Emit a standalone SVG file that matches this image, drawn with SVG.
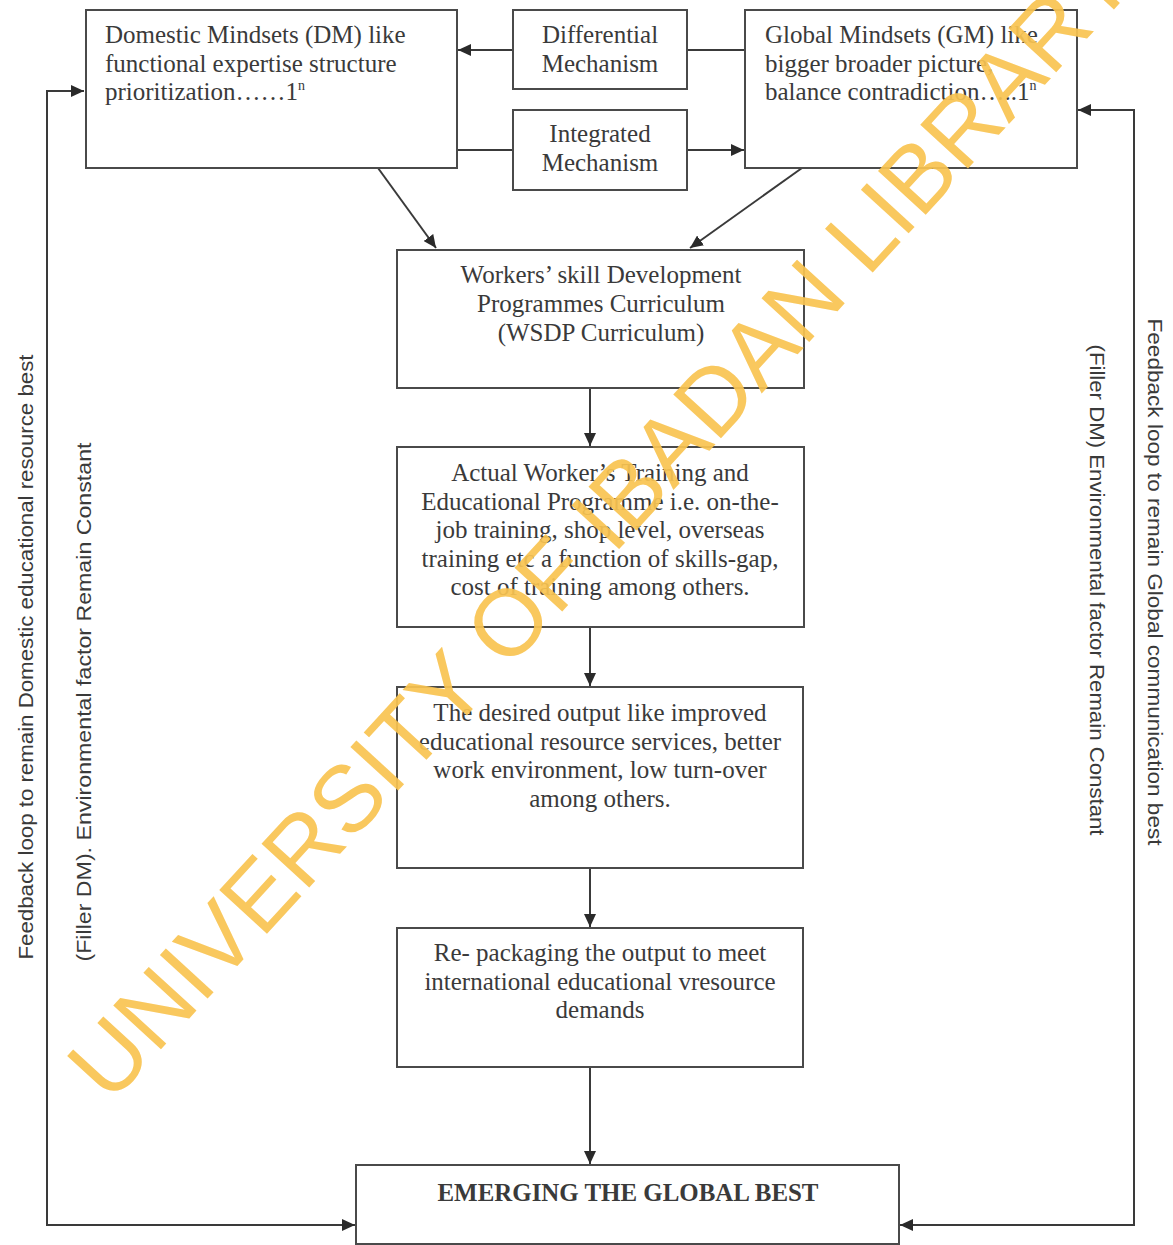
<svg xmlns="http://www.w3.org/2000/svg" width="1173" height="1245" viewBox="0 0 1173 1245">
<style>
.box{fill:#fff;stroke:#4a4a4a;stroke-width:2}
.t{font-family:"Liberation Serif","Times New Roman",serif;font-size:25px;fill:#3a3a3a}
.c{text-anchor:middle}
.v{font-family:"Liberation Sans",Arial,sans-serif;font-size:21px;fill:#3a3a3a;text-anchor:middle}
.ln{fill:none;stroke:#3a3a3a;stroke-width:2}
.wm{font-family:"Liberation Sans",Arial,sans-serif;font-size:94px;fill:#f9c451;opacity:0.92;text-anchor:middle}
</style>
<defs>
<marker id="ah" markerUnits="userSpaceOnUse" markerWidth="14" markerHeight="12" refX="13" refY="6" orient="auto-start-reverse">
<path d="M0,0 L13,6 L0,12 z" fill="#2a2a2a"/>
</marker>
</defs>
<rect width="1173" height="1245" fill="#fff"/>

<g id="connectors">
<line class="ln" x1="513" y1="50" x2="458" y2="50" marker-end="url(#ah)"/>
<line class="ln" x1="687" y1="50" x2="745" y2="50"/>
<line class="ln" x1="457" y1="150" x2="513" y2="150"/>
<line class="ln" x1="687" y1="150" x2="744" y2="150" marker-end="url(#ah)"/>
<line class="ln" x1="378" y1="168" x2="436" y2="248" marker-end="url(#ah)"/>
<line class="ln" x1="802" y1="168" x2="690" y2="248" marker-end="url(#ah)"/>
<line class="ln" x1="590" y1="388" x2="590" y2="446" marker-end="url(#ah)"/>
<line class="ln" x1="590" y1="627" x2="590" y2="686" marker-end="url(#ah)"/>
<line class="ln" x1="590" y1="868" x2="590" y2="927" marker-end="url(#ah)"/>
<line class="ln" x1="590" y1="1067" x2="590" y2="1164" marker-end="url(#ah)"/>
<path class="ln" d="M84,91 H47 V1225 H355" marker-start="url(#ah)" marker-end="url(#ah)"/>
<path class="ln" d="M1078,110 H1134 V1225 H900" marker-start="url(#ah)" marker-end="url(#ah)"/>
</g>

<g id="dm">
<rect class="box" x="86" y="10" width="371" height="158"/>
<text class="t" x="105" y="43">Domestic Mindsets (DM) like</text>
<text class="t" x="105" y="72">functional expertise structure</text>
<text class="t" x="105" y="100">prioritization……1<tspan font-size="14" dy="-10">n</tspan></text>
</g>

<g id="differential">
<rect class="box" x="513" y="10" width="174" height="79"/>
<text class="t c" x="600" y="43">Differential</text>
<text class="t c" x="600" y="72">Mechanism</text>
</g>

<g id="integrated">
<rect class="box" x="513" y="110" width="174" height="80"/>
<text class="t c" x="600" y="142">Integrated</text>
<text class="t c" x="600" y="171">Mechanism</text>
</g>

<g id="gm">
<rect class="box" x="745" y="10" width="332" height="158"/>
<text class="t" x="765" y="43">Global Mindsets (GM) like</text>
<text class="t" x="765" y="72">bigger broader picture,</text>
<text class="t" x="765" y="100">balance contradiction…..1<tspan font-size="14" dy="-10">n</tspan></text>
</g>

<g id="wsdp">
<rect class="box" x="397" y="250" width="407" height="138"/>
<text class="t c" x="601" y="283">Workers’ skill Development</text>
<text class="t c" x="601" y="312">Programmes Curriculum</text>
<text class="t c" x="601" y="341">(WSDP Curriculum)</text>
</g>

<g id="actual">
<rect class="box" x="397" y="447" width="407" height="180"/>
<text class="t c" x="600" y="481">Actual Worker’s Training and</text>
<text class="t c" x="600" y="510">Educational Programme i.e. on-the-</text>
<text class="t c" x="600" y="538">job training, shop level, overseas</text>
<text class="t c" x="600" y="567">training etc a function of skills-gap,</text>
<text class="t c" x="600" y="595">cost of training among others.</text>
</g>

<g id="desired">
<rect class="box" x="397" y="687" width="406" height="181"/>
<text class="t c" x="600" y="721">The desired output like improved</text>
<text class="t c" x="600" y="750">educational resource services, better</text>
<text class="t c" x="600" y="778">work environment, low turn-over</text>
<text class="t c" x="600" y="807">among others.</text>
</g>

<g id="repackaging">
<rect class="box" x="397" y="928" width="406" height="139"/>
<text class="t c" x="600" y="961">Re- packaging the output to meet</text>
<text class="t c" x="600" y="990">international educational vresource</text>
<text class="t c" x="600" y="1018">demands</text>
</g>

<g id="emerging">
<rect class="box" x="356" y="1165" width="543" height="79"/>
<text class="t c" x="628" y="1201" font-size="24" font-weight="bold" textLength="381" lengthAdjust="spacingAndGlyphs">EMERGING THE GLOBAL BEST</text>
</g>

<g id="side-labels">
<text class="v" transform="translate(33,657) rotate(-90)" textLength="605" lengthAdjust="spacingAndGlyphs">Feedback loop to remain Domestic educational resource best</text>
<text class="v" transform="translate(91,702) rotate(-90)" textLength="519" lengthAdjust="spacingAndGlyphs">(Filler DM). Environmental factor Remain Constant</text>
<text class="v" transform="translate(1148,582) rotate(90)" font-size="20" textLength="527" lengthAdjust="spacingAndGlyphs">Feedback loop to remain Global communication best</text>
<text class="v" transform="translate(1090,590) rotate(90)" font-size="18" textLength="491" lengthAdjust="spacingAndGlyphs" fill="#555">(Filler DM) Environmental factor Remain Constant</text>
</g>

<text class="wm" transform="translate(624,544) rotate(-47.5)">UNIVERSITY OF IBADAN LIBRARY</text>
</svg>
